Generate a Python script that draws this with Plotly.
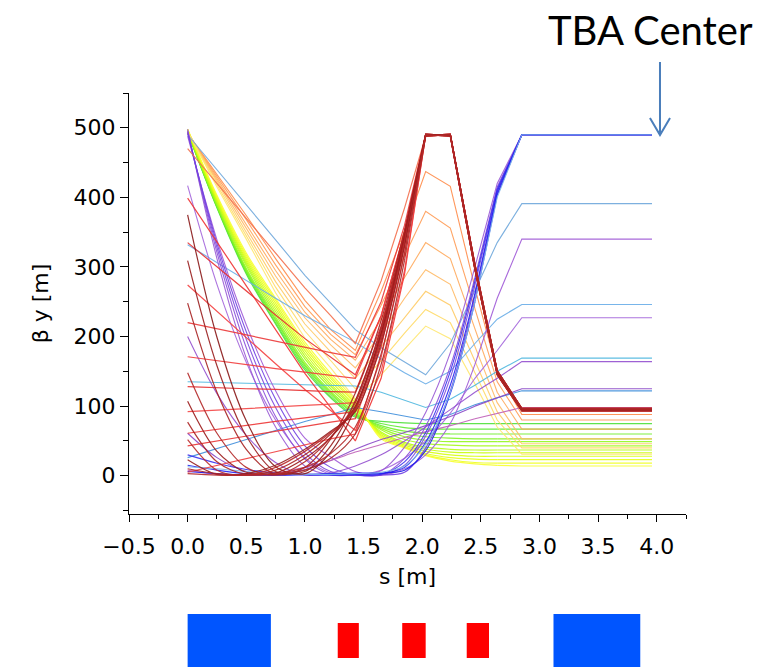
import plotly.graph_objects as go

# ---------------------------------------------------------------- data
# longitudinal sample positions s [m] shared by every beta-y curve
S_NODES = [0.0, 0.25, 0.5, 0.75, 1.0, 1.22, 1.43, 1.65, 1.85, 2.03, 2.24, 2.45, 2.64, 2.85, 3.96]

# green / yellow solutions (low beta at the TBA centre)
BETA_GREEN = [
    [494, 385, 290, 218, 152, 112, 84, 78, 76, 75, 75, 75, 75, 75, 75],
    [494, 386, 292, 220, 155, 114, 86, 75, 69, 67, 67, 67, 67, 67, 67],
    [494, 387, 294, 223, 158, 117, 88, 72, 64, 61, 60, 60, 60, 60, 60],
    [495, 388, 296, 225, 160, 119, 89, 70, 60, 56, 54, 53, 53, 53, 53],
    [495, 389, 298, 228, 163, 121, 91, 68, 56, 51, 49, 49, 49, 49, 49],
    [495, 391, 302, 232, 168, 125, 94, 66, 52, 46, 44, 43, 43, 43, 43],
    [496, 393, 305, 236, 172, 129, 96, 63, 48, 41, 38, 37, 37, 37, 37],
    [496, 395, 308, 240, 176, 132, 98, 61, 46, 38, 34, 33, 33, 33, 33],
    [497, 397, 311, 244, 180, 136, 100, 59, 44, 35, 30, 28, 28, 28, 28],
    [497, 399, 314, 248, 184, 140, 103, 57, 42, 32, 26, 24, 23, 23, 23],
    [498, 401, 317, 252, 188, 143, 105, 55, 41, 30, 23, 19, 18, 18, 18],
    [498, 403, 320, 255, 192, 147, 108, 53, 40, 29, 21, 17, 15, 14, 14],
]

# orange / yellow solutions with a peak between the bends
BETA_ORANGE = [
    [492, 433, 374, 312, 252, 210, 180, 265, 352, 437, 416, 270, 150, 88, 88],
    [492, 430, 368, 303, 243, 203, 174, 245, 315, 380, 356, 240, 135, 80, 80],
    [493, 427, 362, 295, 235, 196, 166, 225, 285, 335, 312, 210, 120, 67, 67],
    [493, 424, 356, 287, 227, 188, 155, 205, 255, 296, 275, 185, 105, 53, 53],
    [494, 421, 350, 279, 218, 178, 140, 185, 228, 265, 245, 165, 92, 46, 46],
    [494, 418, 345, 271, 208, 166, 125, 165, 205, 239, 220, 148, 80, 40, 40],
    [495, 415, 340, 263, 198, 155, 110, 145, 182, 215, 197, 132, 70, 31, 31],
]

# light-blue / cyan solutions
BETA_LIGHTBLUE = [
    [490, 440, 390, 339, 288, 248, 210, 184, 163, 145, 190, 265, 335, 391, 391],
    [332, 306, 281, 255, 230, 210, 192, 168, 148, 132, 150, 190, 225, 246, 246],
    [135, 134, 133, 132, 131, 130, 129, 120, 108, 98, 110, 130, 150, 169, 169],
    [26, 39, 52, 65, 78, 88, 98, 92, 86, 80, 88, 102, 112, 122, 122],
]

# purple solutions
BETA_PURPLE = [
    [488, 339, 217, 122, 54, 27, 6, 1, 10, 30, 75, 160, 255, 340, 340],
    [417, 275, 163, 80, 26, 4, 1, 8, 25, 50, 90, 140, 180, 227, 227],
    [200, 118, 58, 19, 1, 4, 14, 30, 50, 70, 95, 120, 140, 164, 164],
    [61, 26, 6, 1, 9, 22, 38, 52, 62, 72, 85, 100, 112, 125, 125],
    [8, 2, 1, 4, 12, 22, 34, 45, 55, 63, 72, 82, 90, 98, 98],
]

# violet / blue solutions reaching the 490 m limit before the centre
BETA_BLUE = [
    [498, 312, 169, 70, 14, 1, 1, 7, 41, 91, 177, 300, 420, 490, 490],
    [496, 321, 184, 85, 24, 2, 1, 1, 25, 71, 157, 285, 415, 490, 490],
    [494, 328, 196, 98, 33, 6, 1, 1, 15, 57, 141, 274, 410, 490, 490],
    [492, 334, 207, 110, 43, 12, 1, 1, 5, 40, 122, 259, 405, 490, 490],
    [30, 18, 9, 4, 2, 1, 1, 2, 20, 62, 150, 280, 412, 490, 490],
    [15, 8, 3, 1, 1, 1, 2, 3, 12, 48, 130, 262, 408, 490, 490],
    [6, 3, 1, 1, 2, 3, 4, 4, 8, 36, 118, 250, 403, 490, 490],
    [13, 10, 6, 3, 2, 2, 3, 5, 14, 45, 120, 250, 400, 490, 490],
]

# red solutions hitting the 490 m limit between the bends
BETA_RED = [
    [470, 420, 370, 320, 270, 230, 190, 280, 385, 488, 490, 300, 148, 95, 95],
    [399, 336, 273, 210, 147, 98, 50, 140, 290, 490, 490, 300, 148, 95, 95],
    [335, 300, 266, 231, 197, 170, 145, 230, 350, 490, 488, 296, 145, 93, 93],
    [274, 236, 199, 161, 124, 94, 65, 150, 295, 489, 491, 302, 150, 96, 96],
    [220, 211, 202, 193, 184, 177, 170, 250, 360, 491, 489, 298, 146, 94, 94],
    [171, 165, 160, 154, 149, 144, 140, 230, 350, 488, 490, 304, 151, 97, 97],
    [128, 126, 125, 124, 122, 121, 120, 215, 345, 490, 488, 296, 145, 93, 93],
    [92, 94, 97, 99, 101, 103, 105, 205, 340, 490, 490, 300, 148, 95, 95],
    [61, 67, 72, 78, 83, 88, 92, 195, 335, 489, 491, 302, 150, 96, 96],
    [43, 50, 57, 64, 71, 77, 82, 185, 330, 491, 489, 298, 146, 94, 94],
    [5, 15, 25, 35, 45, 53, 60, 170, 320, 488, 490, 304, 151, 97, 97],
]

# dark-red (brown) solutions focused to a small waist near the first bend
BETA_BROWN = [
    [375, 199, 79, 13, 3, 34, 97, 203, 341, 490, 490, 300, 148, 95, 95],
    [309, 158, 57, 6, 6, 43, 108, 213, 347, 489, 491, 302, 150, 96, 96],
    [248, 120, 38, 2, 12, 53, 119, 223, 353, 491, 489, 298, 146, 94, 94],
    [148, 61, 12, 1, 20, 55, 105, 210, 350, 488, 490, 304, 151, 97, 97],
    [107, 35, 5, 4, 25, 55, 100, 205, 345, 490, 488, 296, 145, 93, 93],
    [77, 20, 2, 8, 30, 60, 98, 200, 340, 490, 490, 300, 148, 95, 95],
    [52, 8, 1, 12, 35, 62, 95, 195, 335, 489, 491, 302, 150, 96, 96],
    [23, 2, 3, 15, 38, 64, 92, 190, 330, 491, 489, 298, 146, 94, 94],
    [10, 3, 1, 2, 8, 25, 60, 160, 310, 488, 490, 304, 151, 97, 97],
    [3, 1, 1, 3, 12, 32, 70, 175, 320, 490, 488, 296, 145, 93, 93],
]

# lattice layout drawn under the axis: start / end in s [m] and element kind
MAGNET_START = [0.0, 1.28, 1.83, 2.38, 3.12]
MAGNET_END = [0.71, 1.46, 2.03, 2.57, 3.86]
MAGNET_KIND = ["quad", "bend", "bend", "bend", "quad"]

X_TICKS = [-0.5, 0.0, 0.5, 1.0, 1.5, 2.0, 2.5, 3.0, 3.5, 4.0]
Y_TICKS = [0, 100, 200, 300, 400, 500]

# ---------------------------------------------------------------- styles
GREEN_COLORS = ["#4fe23a", "#5fea33", "#70f02c", "#82f426", "#94f820", "#a6fa1a",
                "#b8fc14", "#c8fd10", "#d8fe10", "#e6ff18", "#f0ff22", "#f8ff30"]
ORANGE_COLORS = ["#ff8c4a", "#ff9c55", "#ffab5e", "#ffbb66", "#ffcc66", "#ffdb66", "#ffe870"]
LIGHTBLUE_COLORS = ["#6fa8dc", "#6aaee8", "#4fb8e0", "#3f8fdc"]
PURPLE_COLORS = ["#a05ad8", "#a466dc", "#9450d0", "#8a48c8", "#c060b8"]
BLUE_COLORS = ["#9a5ad6", "#8c50da", "#7e48de", "#7040e2",
               "#3a30f0", "#2424f2", "#1a1aee", "#7fb6ea"]
RED_COLORS = ["#f4704e", "#f03434", "#e83030", "#f44040", "#ec3838", "#f23c3c",
              "#e62e2e", "#f44646", "#ee3636", "#ea3434", "#f03e3e"]
BROWN_COLORS = ["#8a1818", "#9a1e1e", "#a82222", "#b42828", "#9c1a1a",
                "#ac2424", "#bb2c2c", "#961f1f", "#a82626", "#b42a2a"]
MAGNET_STYLE = {"quad": ("#0055ff", 0, 53), "bend": ("#ff0000", 9, 35)}

TICK_FONT = dict(family="DejaVu Sans", size=22, color="black")

fig = go.Figure()


def add_curve(beta, color, smooth_to, width):
    """Draw one beta curve; the first part (up to index smooth_to) as a spline."""
    style = dict(color=color, width=width)
    if smooth_to:
        fig.add_trace(go.Scatter(
            x=S_NODES[:smooth_to + 1], y=beta[:smooth_to + 1], mode="lines",
            line=dict(style, shape="spline", smoothing=0.9),
            opacity=0.9, hoverinfo="skip", showlegend=False,
        ))
    fig.add_trace(go.Scatter(
        x=S_NODES[smooth_to:], y=beta[smooth_to:], mode="lines",
        line=style, opacity=0.9, hoverinfo="skip", showlegend=False,
    ))


groups = [
    (BETA_GREEN, GREEN_COLORS, 12, 1.2),
    (BETA_ORANGE, ORANGE_COLORS, 0, 1.1),
    (BETA_LIGHTBLUE, LIGHTBLUE_COLORS, 0, 1.1),
    (BETA_PURPLE, PURPLE_COLORS, 11, 1.1),
    (BETA_BLUE, BLUE_COLORS, 11, 1.1),
    (BETA_RED, RED_COLORS, 0, 1.2),
    (BETA_BROWN, BROWN_COLORS, 8, 1.2),
]
for curves, colors, smooth_to, width in groups:
    for beta, color in zip(curves, colors):
        add_curve(beta, color, smooth_to, width)

# magnet blocks on a separate strip below the axis
mid = [(a + b) / 2 for a, b in zip(MAGNET_START, MAGNET_END)]
length = [b - a for a, b in zip(MAGNET_START, MAGNET_END)]
fig.add_trace(go.Bar(
    x=mid, width=length,
    base=[MAGNET_STYLE[k][1] for k in MAGNET_KIND],
    y=[MAGNET_STYLE[k][2] for k in MAGNET_KIND],
    marker=dict(color=[MAGNET_STYLE[k][0] for k in MAGNET_KIND], line=dict(width=0)),
    xaxis="x2", yaxis="y2", hoverinfo="skip", showlegend=False,
))

fig.update_layout(
    width=760, height=667,
    margin=dict(l=129, r=74, t=93, b=0),
    paper_bgcolor="white", plot_bgcolor="white",
    showlegend=False,
    xaxis=dict(
        domain=[0, 1], anchor="y", range=[-0.5, 4.25],
        tickvals=X_TICKS, tickformat=".1f",
        ticks="outside", ticklen=7, tickcolor="black", tickwidth=1,
        minor=dict(dtick=0.25, tick0=0, ticks="outside", ticklen=4, tickcolor="black", showgrid=False),
        showline=True, linecolor="black", linewidth=1,
        showgrid=False, zeroline=False,
        tickfont=TICK_FONT, ticklabelstandoff=6,
        title=dict(text="s [m]", font=TICK_FONT, standoff=10),
    ),
    yaxis=dict(
        domain=[0.26655, 1], anchor="x", range=[-55, 550],
        tickvals=Y_TICKS,
        ticks="outside", ticklen=8, tickcolor="black", tickwidth=1,
        minor=dict(dtick=50, tick0=0, ticks="outside", ticklen=5, tickcolor="black", showgrid=False),
        showline=True, linecolor="black", linewidth=1,
        showgrid=False, zeroline=False,
        tickfont=TICK_FONT,
        title=dict(text="β y [m]", font=TICK_FONT, standoff=18),
    ),
    xaxis2=dict(domain=[0, 1], anchor="y2", matches="x", visible=False),
    yaxis2=dict(domain=[0, 0.0923], anchor="x2", range=[0, 53], visible=False),
)

# "TBA Center" marker with an open arrow pointing at the symmetry point
fig.add_annotation(
    text="TBA Center", xref="paper", yref="paper", x=0.9354, y=1.1098,
    xanchor="center", yanchor="middle", showarrow=False,
    font=dict(family="Lato", size=40, color="black"),
)
ax, ay0, ay1, ayh, dx = 0.9533, 1.054, 0.9268, 0.9564, 0.018
fig.add_shape(
    type="path", xref="paper", yref="paper",
    path=f"M {ax},{ay0} L {ax},{ay1} M {ax - dx},{ayh} L {ax},{ay1} L {ax + dx},{ayh}",
    line=dict(color="#4a7ebb", width=2),
)

fig.write_html("out.html")
